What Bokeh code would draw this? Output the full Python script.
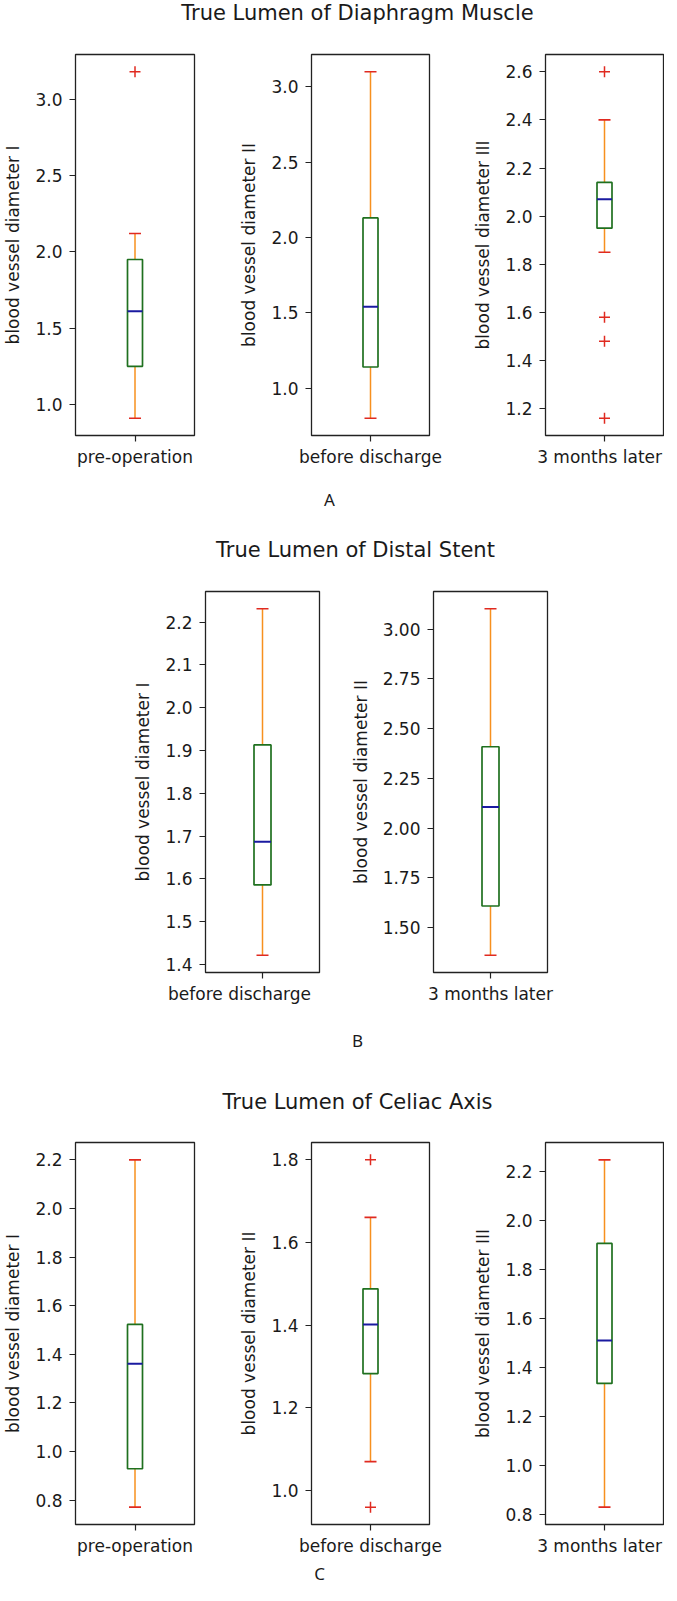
from bokeh.plotting import figure
from bokeh.layouts import column, row
from bokeh.models import FactorRange, Range1d, FixedTicker, PrintfTickFormatter, Label
from bokeh.embed import file_html
from bokeh.resources import INLINE

# ---------------- data ----------------
A_title = "True Lumen of Diaphragm Muscle"
A_cats = ["pre-operation", "before discharge", "3 months later"]
A_ylabels = ["blood vessel diameter I", "blood vessel diameter II", "blood vessel diameter III"]
A_lower = [0.91, 0.80, 1.85]
A_q1 = [1.25, 1.14, 1.95]
A_median = [1.61, 1.54, 2.07]
A_q3 = [1.95, 2.13, 2.14]
A_upper = [2.12, 3.10, 2.40]
A_outliers = [[3.18], [], [2.60, 1.58, 1.48, 1.16]]
A_ticks = [[1.0, 1.5, 2.0, 2.5, 3.0],
           [1.0, 1.5, 2.0, 2.5, 3.0],
           [1.2, 1.4, 1.6, 1.8, 2.0, 2.2, 2.4, 2.6]]
A_fmt = ["%.1f", "%.1f", "%.1f"]

B_title = "True Lumen of Distal Stent"
B_cats = ["before discharge", "3 months later"]
B_ylabels = ["blood vessel diameter I", "blood vessel diameter II"]
B_lower = [1.422, 1.362]
B_q1 = [1.586, 1.609]
B_median = [1.687, 2.106]
B_q3 = [1.913, 2.409]
B_upper = [2.231, 3.102]
B_outliers = [[], []]
B_ticks = [[1.4, 1.5, 1.6, 1.7, 1.8, 1.9, 2.0, 2.1, 2.2],
           [1.50, 1.75, 2.00, 2.25, 2.50, 2.75, 3.00]]
B_fmt = ["%.1f", "%.2f"]

C_title = "True Lumen of Celiac Axis"
C_cats = ["pre-operation", "before discharge", "3 months later"]
C_ylabels = ["blood vessel diameter I", "blood vessel diameter II", "blood vessel diameter III"]
C_lower = [0.771, 1.070, 0.829]
C_q1 = [0.929, 1.283, 1.334]
C_median = [1.361, 1.402, 1.509]
C_q3 = [1.523, 1.488, 1.906]
C_upper = [2.200, 1.661, 2.247]
C_outliers = [[], [1.80, 0.96], []]
C_ticks = [[0.8, 1.0, 1.2, 1.4, 1.6, 1.8, 2.0, 2.2],
           [1.0, 1.2, 1.4, 1.6, 1.8],
           [0.8, 1.0, 1.2, 1.4, 1.6, 1.8, 2.0, 2.2]]
C_fmt = ["%.1f", "%.1f", "%.1f"]

panel_letters = ["A", "B", "C"]

# ---------------- styles ----------------
FONT = "DejaVu Sans"
FS = "17px"
BOX_COL = "#1f701f"
WHISK_COL = "#f7901e"
CAP_COL = "#e02a20"
MED_COL = "#1a1aa0"
TOTAL_W = 661


def box_fig(cat, ylabel, lo, q1, med, q3, hi, outs, ticks, fmt,
            fw, fh, bl, br, bt, bb, box_px):
    vals = [lo, q1, med, q3, hi] + list(outs)
    vmin, vmax = min(vals), max(vals)
    pad = 0.05 * (vmax - vmin)
    p = figure(frame_width=fw, frame_height=fh,
               x_range=FactorRange(factors=[cat]),
               y_range=Range1d(vmin - pad, vmax + pad),
               toolbar_location=None, output_backend="svg",
               min_border_left=bl, min_border_right=br,
               min_border_top=bt, min_border_bottom=bb)
    p.segment(x0=[cat, cat], y0=[q3, q1], x1=[cat, cat], y1=[hi, lo],
              line_color=WHISK_COL, line_width=1.5)
    p.rect(x=[cat], y=[(q1 + q3) / 2], width=box_px, height=[q3 - q1],
           width_units="screen", fill_color=None,
           line_color=BOX_COL, line_width=1.7)
    p.scatter(x=[cat], y=[med], marker="dash", size=box_px,
              line_color=MED_COL, line_width=2)
    p.scatter(x=[cat, cat], y=[hi, lo], marker="dash", size=12,
              line_color=CAP_COL, line_width=1.6)
    if outs:
        p.scatter(x=[cat] * len(outs), y=list(outs), marker="cross", size=11,
                  line_color=CAP_COL, line_width=1.5)
    p.grid.visible = False
    p.outline_line_color = "#222222"
    p.outline_line_width = 1.3
    p.background_fill_color = "white"
    p.border_fill_color = "white"
    for ax in (p.xaxis[0], p.yaxis[0]):
        ax.axis_line_color = None
        ax.major_tick_in = 0
        ax.major_tick_out = 6
        ax.major_tick_line_color = "#222222"
        ax.major_tick_line_width = 1.2
        ax.minor_tick_line_color = None
        ax.major_label_text_font = FONT
        ax.major_label_text_font_size = FS
        ax.major_label_text_color = "#1a1a1a"
    p.xaxis.major_label_standoff = 5
    p.yaxis.major_label_standoff = 7
    p.yaxis.ticker = FixedTicker(ticks=ticks)
    p.yaxis.formatter = PrintfTickFormatter(format=fmt)
    p.yaxis.axis_label = ylabel
    p.yaxis.axis_label_text_font = FONT
    p.yaxis.axis_label_text_font_size = FS
    p.yaxis.axis_label_text_font_style = "normal"
    p.yaxis.axis_label_text_color = "#1a1a1a"
    p.yaxis.axis_label_standoff = 9
    return p


def strip(h, items):
    p = figure(width=TOTAL_W, height=h, x_range=Range1d(0, TOTAL_W),
               y_range=Range1d(0, h), x_axis_type=None, y_axis_type=None,
               toolbar_location=None, output_backend="svg", min_border=0)
    p.grid.visible = False
    p.outline_line_color = None
    for x, y, txt, font, size in items:
        p.add_layout(Label(x=x, y=y, text=txt, text_align="center",
                           text_baseline="middle", text_font=font,
                           text_font_size=size, text_color="#1a1a1a"))
    return p


def panel_row(cats, ylabels, lower, q1, med, q3, upper, outs, ticks, fmts,
              frames, borders, fh, bt, bb, box_px):
    figs = []
    for i in range(len(cats)):
        bl, br = borders[i]
        figs.append(box_fig(cats[i], ylabels[i], lower[i], q1[i], med[i], q3[i],
                            upper[i], outs[i], ticks[i], fmts[i],
                            frames[i], fh, bl, br, bt, bb, box_px))
    return row(*figs)


# three-panel rows: 72+119+39=230, 78+118+40=236, 76+118+1=195 -> 661
tri_frames = [119, 118, 118]
tri_borders = [(72, 39), (78, 40), (76, 1)]

s1 = strip(40, [(357, 28, A_title, FONT, "21px")])
rA = panel_row(A_cats, A_ylabels, A_lower, A_q1, A_median, A_q3, A_upper,
               A_outliers, A_ticks, A_fmt,
               tri_frames, tri_borders, 381, 14, 45, 15)
s2 = strip(95, [(329, 76, panel_letters[0], "Noto Sans", "17px"),
                (355, 26, B_title, FONT, "21px")])
# two-panel row: 205+114+3=322, 111+114+114=339 -> 661
rB = panel_row(B_cats, B_ylabels, B_lower, B_q1, B_median, B_q3, B_upper,
               B_outliers, B_ticks, B_fmt,
               [114, 114], [(205, 3), (111, 114)], 381, 16, 48, 17)
s3 = strip(105, [(357, 85, panel_letters[1], "Noto Sans", "17px"),
                 (357, 24, C_title, FONT, "21px")])
rC = panel_row(C_cats, C_ylabels, C_lower, C_q1, C_median, C_q3, C_upper,
               C_outliers, C_ticks, C_fmt,
               tri_frames, tri_borders, 382, 17, 36, 15)
s4 = strip(24, [(319, 11, panel_letters[2], "Noto Sans", "17px")])

layout = column(s1, rA, s2, rB, s3, rC, s4)

open("out.html", "w").write(file_html(layout, INLINE))
